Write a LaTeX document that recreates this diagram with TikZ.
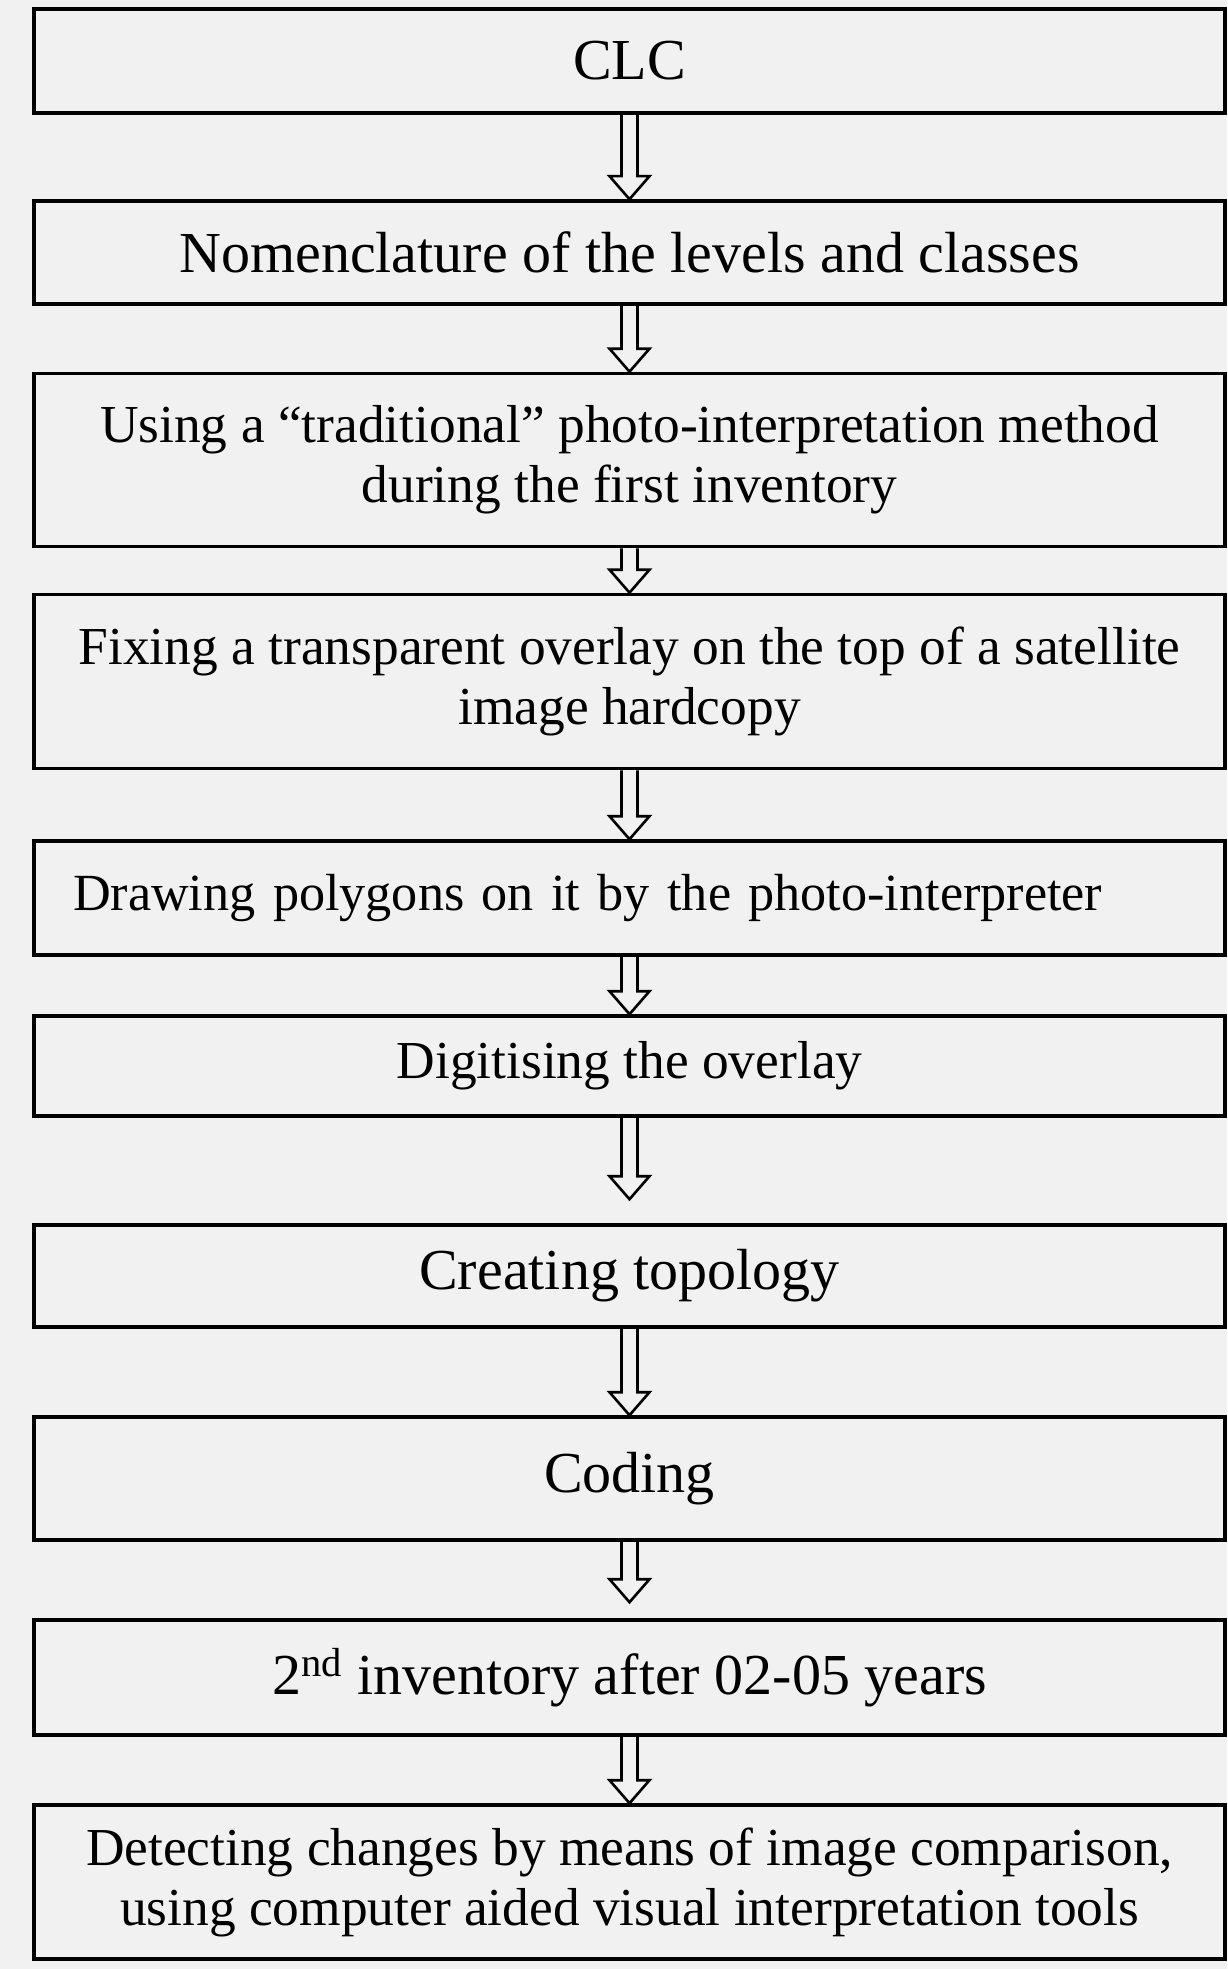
\documentclass[tikz,border=0pt]{standalone}
\usepackage{fontspec}
\setmainfont{Liberation Serif}
\usetikzlibrary{calc, positioning}
\definecolor{paper}{RGB}{241,241,241}
\def\boxwidth{595.5pt}
\tikzstyle{stepbox}=[draw=black, fill=paper, line width=1.8pt, minimum width=\boxwidth, inner sep=0pt, align=center, font=\fontsize{29pt}{30pt}\selectfont]
\tikzstyle{smallbox}=[stepbox, font=\fontsize{26.7pt}{30pt}\selectfont]
\tikzstyle{leftbox}=[stepbox, font=\fontsize{26.1pt}{30pt}\selectfont, align=left, text width=556.5pt, inner xsep=19.5pt]
\tikzstyle{hollow arrow}=[draw=black, line width=1.3pt, line join=miter]
% hollow block arrow from #2 to #3, tip lifted by #1 px
\newcommand{\flowarrow}[3][0]{%
  \draw[hollow arrow] ($(#2.south)+(-8,0)$) -- ($(#3.north)+(-8,-23-#1)$)
    -- ($(#3.north)+(-20,-23-#1)$) -- ($(#3.north)+(0,-#1)$)
    -- ($(#3.north)+(20,-23-#1)$) -- ($(#3.north)+(8,-23-#1)$)
    -- ($(#2.south)+(8,0)$);}

\begin{document}
\begin{tikzpicture}[x=0.5pt, y=-0.5pt]
		\fill[paper] (0,0) rectangle (1227,1969);
		\useasboundingbox (0,0) rectangle (1227,1969);
		\def\midx{629.5}

		% Draw the steps
		\node[stepbox, minimum height=52pt] (clc) at (\midx, 61) {CLC};
		\node[stepbox, minimum height=51.5pt] (nomen) at (\midx, 252.5) {Nomenclature of the levels and classes};
		\node[smallbox, minimum height=86.5pt] (tradit) at (\midx, 460) {Using a “traditional” photo-interpretation method\\during the first inventory};
		\node[smallbox, minimum height=87pt] (overlay) at (\midx, 681.5) {Fixing a transparent overlay on the top of a satellite\\image hardcopy};
		\node[leftbox, minimum height=57pt] (polygons) at (\midx, 898) {Drawing polygons on it by the photo-interpreter};
		\node[smallbox, minimum height=50pt] (digitise) at (\midx, 1066) {Digitising the overlay};
		\node[stepbox, minimum height=51pt] (topology) at (\midx, 1276) {Creating topology};
		\node[stepbox, minimum height=61.5pt] (coding) at (\midx, 1478.5) {Coding};
		\node[stepbox, minimum height=57.5pt] (second) at (\midx, 1677.5) {2\textsuperscript{nd} inventory after 02-05 years};
		\node[smallbox, minimum height=77pt] (detect) at (\midx, 1882) {Detecting changes by means of image comparison,\\using computer aided visual interpretation tools};

		% Connect every step with the next one
		\foreach \source/\dest in {clc/nomen, nomen/tradit, tradit/overlay, overlay/polygons, polygons/digitise, topology/coding, second/detect}
		\flowarrow{\source}{\dest};

		\flowarrow[24]{digitise}{topology};
		\flowarrow[16]{coding}{second};
	\end{tikzpicture}
\end{document}
